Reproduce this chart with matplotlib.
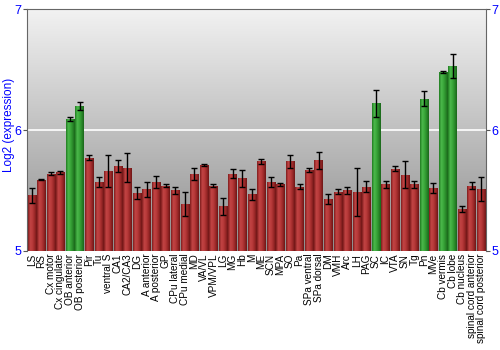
import numpy as np
import matplotlib
matplotlib.use("Agg")
import matplotlib.pyplot as plt
from matplotlib.colors import LinearSegmentedColormap

regions = ["LS", "RS", "Cx motor", "Cx cingulate", "OB anterior", "OB posterior",
           "Pir", "Tu", "ventral S", "CA1", "CA2/CA3", "DG", "A anterior",
           "A posterior", "GP", "CPu lateral", "CPu medial", "MD", "VA/VL",
           "VPM/VPL", "LG", "MG", "Hb", "M", "ME", "SCN", "MPA", "SO", "Pa",
           "SPa ventral", "SPa dorsal", "DM", "VMH", "Arc", "LH", "PAG", "SC",
           "IC", "VTA", "SN", "Tg", "Pn", "MVe", "Cb vermis", "Cb lobe",
           "Cb nucleus", "spinal cord anterior", "spinal cord posterior"]
expr = [5.46, 5.59, 5.64, 5.65, 6.09, 6.20, 5.77, 5.57, 5.66, 5.70, 5.69, 5.48,
        5.51, 5.57, 5.54, 5.50, 5.39, 5.64, 5.71, 5.54, 5.37, 5.64, 5.60, 5.47,
        5.74, 5.57, 5.55, 5.74, 5.53, 5.67, 5.75, 5.43, 5.49, 5.50, 5.485, 5.53,
        6.22, 5.55, 5.68, 5.63, 5.55, 6.26, 5.52, 6.48, 6.53, 5.35, 5.54, 5.51]
err = [0.06, 0.005, 0.01, 0.015, 0.015, 0.035, 0.02, 0.045, 0.13, 0.05, 0.12, 0.05,
       0.06, 0.05, 0.015, 0.03, 0.10, 0.05, 0.005, 0.015, 0.07, 0.04, 0.07, 0.045,
       0.02, 0.04, 0.01, 0.055, 0.02, 0.02, 0.07, 0.045, 0.02, 0.03, 0.2, 0.045,
       0.11, 0.03, 0.02, 0.11, 0.03, 0.06, 0.04, 0.01, 0.1, 0.025, 0.03, 0.1]
highlight = ["OB anterior", "OB posterior", "SC", "Pn", "Cb vermis", "Cb lobe"]

plt.rcParams["font.family"] = ["Liberation Sans", "DejaVu Sans"]

fig = plt.figure(figsize=(5, 3.5), dpi=100)
ax = fig.add_axes([0.054, 0.283, 0.918, 0.691])

x = np.arange(len(regions))
ax.set_xlim(-0.5, len(regions) - 0.5)
ax.set_ylim(5, 7)

# gray gradient background
bg = LinearSegmentedColormap.from_list("bg", ["#8e8e8e", "#f2f2f2"])
ax.imshow(np.linspace(0, 1, 256).reshape(-1, 1), cmap=bg, aspect="auto",
          extent=(-0.5, len(regions) - 0.5, 5, 7), origin="lower", zorder=0)
ax.axhline(6, color="white", lw=1.2, zorder=1)

red = LinearSegmentedColormap.from_list("red", ["#7e1c1c", "#c24444", "#b83a3a", "#9a2828", "#6e1616"])
green = LinearSegmentedColormap.from_list("green", ["#1f7a1f", "#4cb84c", "#3aa83a", "#2a8a2a", "#1a661a"])
strip = np.linspace(0, 1, 64).reshape(1, -1)

bars = ax.bar(x, np.array(expr) - 5, bottom=5, width=0.88, color="none", zorder=2)
for name, b in zip(regions, bars):
    cm = green if name in highlight else red
    im = ax.imshow(strip, cmap=cm, aspect="auto", zorder=2,
                   extent=(b.get_x(), b.get_x() + b.get_width(), 5, b.get_y() + b.get_height()))
    im.set_clip_path(b)

ax.errorbar(x, expr, yerr=err, fmt="none", ecolor="black", elinewidth=1,
            capsize=2, capthick=1, zorder=3)

ax.set_xticks(x)
ax.set_xticklabels(regions, rotation=90, fontsize=7.2)
ax.tick_params(axis="x", length=0, pad=2)
ax.set_yticks([5, 6, 7])
ax.tick_params(axis="y", colors="#555555", labelcolor="blue", labelsize=9,
               length=3, right=True, labelright=True, pad=1)
ax.set_ylabel("Log2 (expression)", color="blue", fontsize=8.5)
ax.yaxis.set_label_coords(-0.027, 0.52)

for side in ["left", "right", "top"]:
    ax.spines[side].set_color("#666666")
ax.spines["bottom"].set_visible(False)

fig.savefig("out.png", dpi=100)
